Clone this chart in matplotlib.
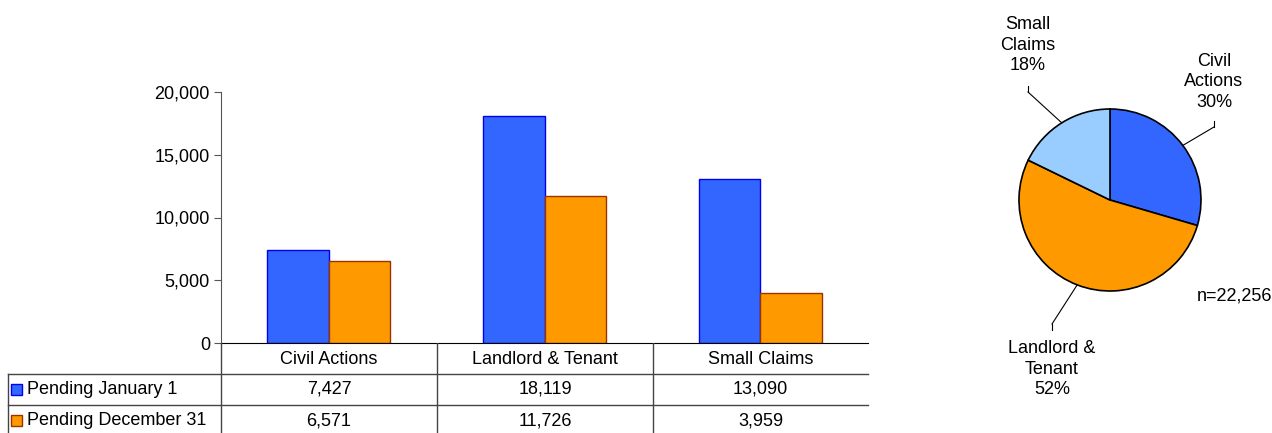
import matplotlib
matplotlib.use("Agg")
import matplotlib.pyplot as plt
from matplotlib.patches import Rectangle
import numpy as np

plt.rcParams['font.family'] = ['Liberation Sans', 'DejaVu Sans']
plt.rcParams['font.size'] = 13

# data
categories = ["Civil Actions", "Landlord & Tenant", "Small Claims"]
series_names = ["Pending January 1", "Pending December 31"]
pending_jan = [7427, 18119, 13090]
pending_dec = [6571, 11726, 3959]
pie_labels = ["Civil\nActions", "Landlord &\nTenant", "Small\nClaims"]
pie_pct = [30, 52, 18]
yticks = [0, 5000, 10000, 15000, 20000]

blue = "#3366FF"
blue_edge = "#0000EE"
orange = "#FF9900"
orange_edge = "#993300"
light_blue = "#99CCFF"

W, H = 1272, 433
fig = plt.figure(figsize=(W / 100, H / 100), dpi=100)

def px(x0, y0, x1, y1):
    # pixel box (top-left origin) -> figure fraction rect
    return [x0 / W, 1 - y1 / H, (x1 - x0) / W, (y1 - y0) / H]

# bar chart
ax = fig.add_axes(px(221, 92, 868, 343))
x = range(len(categories))
bw = 0.285
ax.bar([i - bw / 2 for i in x], pending_jan, bw, color=blue, edgecolor=blue_edge, linewidth=1)
ax.bar([i + bw / 2 for i in x], pending_dec, bw, color=orange, edgecolor=orange_edge, linewidth=1)
ax.set_xlim(-0.5, 2.5)
ax.set_ylim(0, 20000)
ax.set_yticks(yticks)
ax.set_yticklabels([f"{v:,}" for v in yticks])
ax.set_xticks([])
for s in ["top", "right"]:
    ax.spines[s].set_visible(False)
ax.spines["left"].set_color("#555555")
ax.spines["bottom"].set_color("black")
ax.tick_params(axis="y", length=5, color="#555555", pad=3)

# data table under the bars
tab = fig.add_axes(px(0, 343, W, H))
tab.set_xlim(0, W)
tab.set_ylim(H, 343)
tab.axis("off")
col_edges = [221, 437, 653, 868]
row_edges = [343, 374, 405, 436]
lc = "#444444"
for xe in col_edges[:-1]:
    tab.plot([xe, xe], [343, H], color=lc, lw=1)
tab.plot([8, 8], [374, H], color=lc, lw=1)
for ye in row_edges[1:3]:
    tab.plot([8, 868], [ye, ye], color=lc, lw=1)
for j, cat in enumerate(categories):
    cx = (col_edges[j] + col_edges[j + 1]) / 2
    tab.text(cx, (row_edges[0] + row_edges[1]) / 2 + 1, cat, ha="center", va="center")
rows = [pending_jan, pending_dec]
fills = [(blue, blue_edge), (orange, orange_edge)]
for r, vals in enumerate(rows):
    cy = (row_edges[r + 1] + row_edges[r + 2]) / 2
    fc, ec = fills[r]
    tab.add_patch(Rectangle((11, cy - 5.5), 11, 11, facecolor=fc, edgecolor=ec, lw=1))
    tab.text(27, cy, series_names[r], ha="left", va="center")
    for j, v in enumerate(vals):
        cx = (col_edges[j] + col_edges[j + 1]) / 2
        tab.text(cx, cy, f"{v:,}", ha="center", va="center")

# pie of year-end pending
pax = fig.add_axes(px(1110 - 91, 200 - 91, 1110 + 91, 200 + 91))
total = sum(pending_dec)
pax.pie(pending_dec, colors=[blue, orange, light_blue], startangle=90,
        counterclock=False, radius=1,
        wedgeprops=dict(edgecolor="black", linewidth=1.2))
pax.set_xlim(-1, 1)
pax.set_ylim(-1, 1)
pax.set_aspect("equal")
pax.axis("off")

# label positions (pixels) and leader-line bend points
label_xy = [(1214, 82), (1052, 369), (1028, 45)]
bend_xy = [(1214, 127), (1052, 324), (1028, 92)]
ang = 90.0
for k, v in enumerate(pending_dec):
    frac = v / total
    mid = np.deg2rad(ang - frac * 360 / 2)
    ang -= frac * 360
    ex = 1110 + 91 * np.cos(mid)
    ey = 200 - 91 * np.sin(mid)
    bx, by = bend_xy[k]
    tx, ty = label_xy[k]
    fig.add_artist(plt.Line2D([ex / W, bx / W], [1 - ey / H, 1 - by / H], color="black", lw=0.8))
    stub = 6 if by > ey else -6
    fig.add_artist(plt.Line2D([bx / W, bx / W], [1 - by / H, 1 - (by + stub) / H], color="black", lw=0.8))
    fig.text(tx / W, 1 - ty / H, f"{pie_labels[k]}\n{pie_pct[k]}%", ha="center", va="center",
             linespacing=1.3)

fig.text(1197 / W, 1 - 296 / H, f"n={total:,}", ha="left", va="center")

fig.savefig("out.png", dpi=100)
